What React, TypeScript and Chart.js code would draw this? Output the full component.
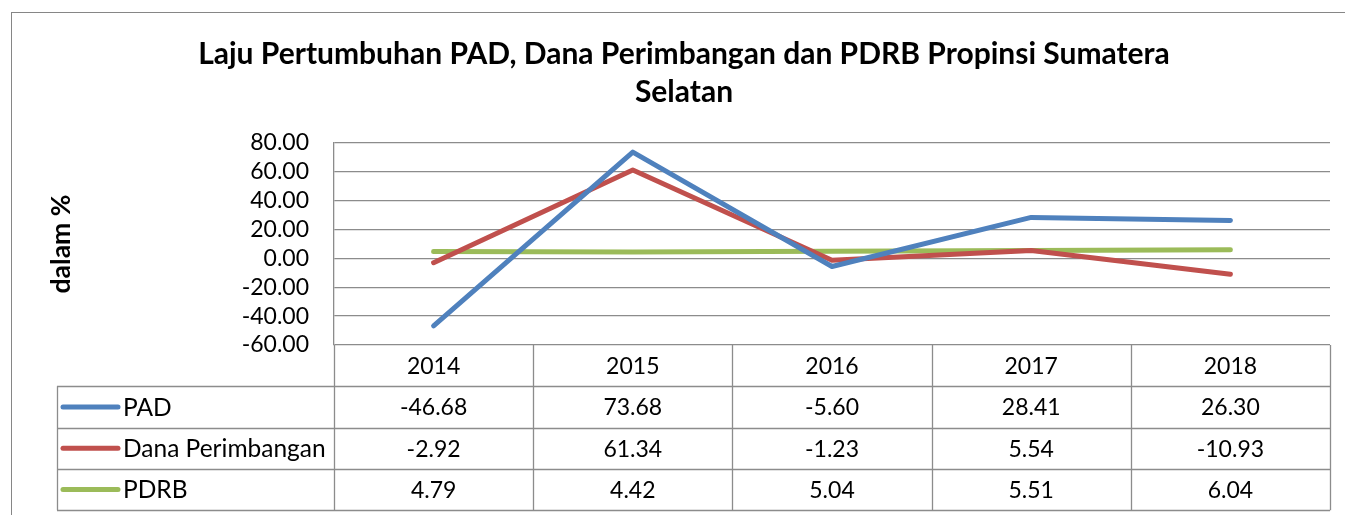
import React, { useEffect, useRef } from "react";
import { Chart, registerables } from "chart.js";

Chart.register(...registerables);

const categories = ["2014", "2015", "2016", "2017", "2018"];
const padValues = [-46.68, 73.68, -5.6, 28.41, 26.3];
const danaValues = [-2.92, 61.34, -1.23, 5.54, -10.93];
const pdrbValues = [4.79, 4.42, 5.04, 5.51, 6.04];
const seriesNames = ["PAD", "Dana Perimbangan", "PDRB"];
const seriesColors = ["#4F81BD", "#C0504D", "#9BBB59"];
const titleLines = [
  "Laju Pertumbuhan PAD, Dana Perimbangan dan PDRB Propinsi Sumatera",
  "Selatan",
];
const yAxisTitle = "dalam %";

const GRID = "#8c8c8c";
const FONT = "Lato";

const tablePlugin = {
  id: "dataTable",
  afterDraw(chart: any) {
    const ctx = chart.ctx;
    const area = chart.chartArea;
    const x = chart.scales.x;
    const ds = chart.data.datasets;
    ctx.save();
    // outer chart border
    ctx.strokeStyle = "#868686";
    ctx.lineWidth = 1;
    ctx.strokeRect(11.5, 12.5, 2000, 2000);

    // title
    ctx.fillStyle = "#000";
    ctx.font = `bold 30px ${FONT}`;
    ctx.textAlign = "center";
    ctx.textBaseline = "alphabetic";
    ctx.fillText(titleLines[0], 684, 64);
    ctx.fillText(titleLines[1], 684, 102);

    // table geometry
    const top = area.bottom;
    const rowH = 41.3;
    const legendLeft = 57;
    const n = categories.length;
    const colW = (area.right - area.left) / n;
    const rows = ds.length;
    const bottom = top + rowH * (rows + 1);

    ctx.strokeStyle = GRID;
    ctx.lineWidth = 1.3;
    ctx.beginPath();
    for (let i = 0; i <= n; i++) {
      const px = Math.round(area.left + colW * i) + 0.5;
      ctx.moveTo(px, top);
      ctx.lineTo(px, bottom);
    }
    ctx.moveTo(legendLeft + 0.5, top + rowH);
    ctx.lineTo(legendLeft + 0.5, bottom);
    for (let r = 1; r <= rows + 1; r++) {
      const py = Math.round(top + rowH * r) + 0.5;
      ctx.moveTo(legendLeft, py);
      ctx.lineTo(area.right, py);
    }
    ctx.stroke();

    // header
    ctx.fillStyle = "#000";
    ctx.font = `23px ${FONT}`;
    ctx.textAlign = "center";
    ctx.textBaseline = "middle";
    categories.forEach((c, i) => {
      ctx.fillText(c, x.getPixelForValue(i), top + rowH / 2 + 1);
    });
    // rows
    ds.forEach((d: any, r: number) => {
      const cy = top + rowH * (r + 1) + rowH / 2 + 1;
      ctx.strokeStyle = d.borderColor;
      ctx.lineWidth = 5;
      ctx.lineCap = "round";
      ctx.beginPath();
      ctx.moveTo(63, cy - 1);
      ctx.lineTo(118, cy - 1);
      ctx.stroke();
      ctx.textAlign = "left";
      ctx.font = `24.5px ${FONT}`;
      ctx.fillText(d.label, 123, cy);
      ctx.textAlign = "center";
      ctx.font = `23px ${FONT}`;
      d.data.forEach((v: number, i: number) => {
        ctx.fillText(v.toFixed(2), x.getPixelForValue(i), cy);
      });
    });
    ctx.restore();
  },
};

export default function App() {
  const ref = useRef<HTMLCanvasElement>(null);
  useEffect(() => {
    if (!ref.current) return;
    const values = [padValues, danaValues, pdrbValues];
    const chart = new Chart(ref.current, {
      type: "line",
      data: {
        labels: categories,
        datasets: values.map((v, i) => ({
          label: seriesNames[i],
          data: v,
          borderColor: seriesColors[i],
          backgroundColor: seriesColors[i],
          borderWidth: 5,
          pointRadius: 0,
          tension: 0,
          borderCapStyle: "round" as const,
          borderJoinStyle: "round" as const,
        })),
      },
      options: {
        responsive: false,
        animation: false,
        devicePixelRatio: 1,
        layout: { padding: { top: 143, bottom: 170, left: 0, right: 15 } },
        plugins: {
          legend: { display: false },
          title: { display: false },
          tooltip: { enabled: false },
        },
        scales: {
          x: {
            type: "category",
            offset: true,
            display: false,
          },
          y: {
            min: -60,
            max: 80,
            ticks: {
              stepSize: 20,
              autoSkip: false,
              padding: 25,
              color: "#000",
              font: { family: FONT, size: 23 },
              callback: (v: any) => Number(v).toFixed(2),
            },
            grid: { color: GRID, lineWidth: 1.3, drawTicks: false },
            border: { display: true, color: GRID, width: 1.3 },
            title: {
              display: true,
              text: yAxisTitle,
              color: "#000",
              font: { family: FONT, size: 26.5, weight: "bold" },
              padding: { top: 46, bottom: 0 },
            },
            afterFit: (scale: any) => {
              scale.width = 334;
            },
          },
        },
      },
      plugins: [tablePlugin],
    });
    return () => chart.destroy();
  }, []);
  return (
    <div style={{ position: "absolute", left: 0, top: 0, width: 1345, height: 515, background: "#fff" }}>
      <canvas ref={ref} width={1345} height={515} />
    </div>
  );
}
